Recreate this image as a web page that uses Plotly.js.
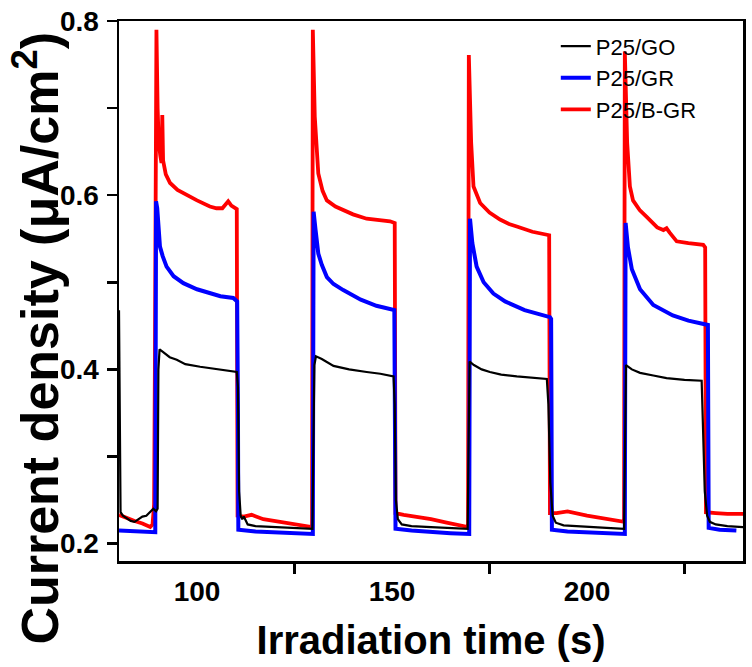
<!DOCTYPE html>
<html>
<head>
<meta charset="utf-8">
<script src="https://cdn.plot.ly/plotly-3.0.1.min.js"></script>
<style>html,body{margin:0;padding:0;background:#fff;}#chart{width:752px;height:667px;}</style>
</head>
<body>
<div id="chart"></div>
<script>
// Series names (legend order)
const seriesNames = ["P25/GO", "P25/GR", "P25/B-GR"];

// P25/GO : [time (s), current density (uA/cm2)]
const goData = [
  [80,0.468],[80.15,0.30],[80.4,0.236],[81,0.232],[82,0.229],[83,0.226],[84,0.225],[85,0.228],[86,0.231],[87,0.232],[88,0.236],[88.8,0.240],[89.5,0.237],[89.9,0.240],
  [90.1,0.40],[90.4,0.423],[91,0.421],[92,0.417],[93,0.414],[94.8,0.411],[97,0.406],[100.8,0.403],[104,0.401],[107,0.399],[110.2,0.397],
  [110.5,0.38],[110.8,0.26],[111.2,0.232],[111.6,0.228],[112,0.231],[113,0.222],[115,0.220],[120,0.219],[125,0.218],[129.6,0.217],
  [129.8,0.30],[130.1,0.405],[130.5,0.415],[132,0.412],[135,0.404],[139,0.400],[143.5,0.397],[147,0.395],[150.4,0.392],
  [150.7,0.36],[151,0.25],[151.5,0.228],[152.5,0.222],[155,0.220],[160,0.219],[165,0.218],[169.4,0.217],
  [169.6,0.30],[169.9,0.409],[171,0.405],[173,0.400],[175.1,0.397],[178,0.394],[182,0.392],[186,0.390],[189.7,0.389],
  [190.1,0.36],[190.6,0.27],[191.2,0.232],[192,0.224],[194,0.221],[200,0.219],[205,0.218],[209.5,0.217],
  [209.7,0.30],[210,0.405],[211.5,0.400],[213.6,0.396],[217,0.393],[220.4,0.390],[225,0.388],[229.4,0.387],
  [229.7,0.34],[230.2,0.26],[230.8,0.232],[231.5,0.225],[233,0.222],[236,0.220],[240,0.219]
];

// P25/GR
const grData = [
  [80,0.215],[84,0.214],[88,0.213],[89.3,0.213],[89.4,0.40],[89.5,0.593],[89.8,0.585],[90.2,0.555],[90.5,0.541],[91.2,0.530],[92.2,0.518],[94,0.507],[96.5,0.499],[100,0.492],[103.3,0.487],[106,0.484],[109.3,0.482],[110.3,0.478],
  [110.5,0.35],[110.6,0.216],[115,0.214],[120,0.213],[125,0.212],[129.7,0.211],
  [129.8,0.40],[129.9,0.581],[130.4,0.560],[131.1,0.533],[132,0.520],[133.3,0.506],[135,0.498],[137.5,0.491],[142,0.480],[146,0.473],[150.6,0.468],
  [150.8,0.35],[150.9,0.217],[155,0.215],[160,0.213],[165,0.212],[169.8,0.211],
  [169.9,0.40],[170,0.573],[170.6,0.545],[171.7,0.518],[173.5,0.500],[176,0.487],[179,0.478],[184,0.468],[190.5,0.460],[190.8,0.458],
  [190.9,0.35],[191,0.216],[195,0.214],[200,0.213],[205,0.212],[209.7,0.211],
  [209.8,0.40],[209.9,0.568],[210.5,0.540],[211.5,0.515],[213.6,0.492],[217,0.474],[222,0.462],[226,0.456],[231,0.451],
  [231.1,0.35],[231.2,0.218],[234,0.216],[238.3,0.215]
];

// P25/B-GR
const bgrData = [
  [80,0.233],[82,0.229],[84,0.226],[86,0.223],[88,0.219],[88.6,0.222],[89.0,0.245],[89.2,0.40],[89.4,0.70],[89.6,0.790],[89.9,0.700],[90.2,0.660],[90.6,0.645],[90.9,0.637],[91.1,0.692],[91.3,0.640],[92,0.624],[93.1,0.614],[95,0.606],[97.4,0.600],[100,0.594],[103.3,0.587],[105,0.585],[106.5,0.585],[107.3,0.590],[108,0.593],[108.8,0.588],[110.2,0.584],
  [110.3,0.40],[110.4,0.232],[112,0.231],[114,0.233],[117,0.228],[120,0.226],[125,0.222],[129,0.219],[129.5,0.219],
  [129.6,0.50],[129.7,0.790],[130.2,0.690],[131.1,0.625],[132.2,0.605],[133.3,0.594],[135.5,0.587],[137.5,0.583],[140,0.578],[143.5,0.573],[147,0.571],[149.5,0.570],[150.7,0.568],
  [150.8,0.40],[150.9,0.235],[153,0.233],[156,0.231],[160,0.228],[164,0.224],[168.7,0.219],[169.5,0.219],
  [169.6,0.50],[169.7,0.761],[170.3,0.660],[170.9,0.610],[172.6,0.591],[175,0.580],[177.7,0.572],[180,0.567],[182,0.564],[186,0.558],[190.3,0.554],
  [190.4,0.40],[190.5,0.235],[192.2,0.235],[195,0.237],[200,0.232],[205,0.228],[209,0.225],[209.5,0.225],
  [209.6,0.50],[209.7,0.765],[210.3,0.660],[211,0.610],[211.8,0.594],[213.5,0.583],[215.3,0.575],[218,0.563],[219.6,0.560],[220.4,0.562],[221.2,0.557],[223,0.547],[226,0.545],[229.8,0.543],[230.3,0.540],
  [230.4,0.40],[230.5,0.236],[233,0.235],[236,0.234],[240,0.234]
];

// Axis ticks
const xRange = [80, 240];
const yRange = [0.18, 0.8];
const xMajor = {tick0: 100, dtick: 50};
const xMinorStep = 25;
const yMajor = {tick0: 0.2, dtick: 0.2};
const yMinorStep = 0.1;

const xTitle = "<b>Irradiation time (s)</b>";
const yTitle = "<b>Current density (μA/cm<sup>2</sup>)</b>";

const colors = {"P25/GO":"#000000","P25/GR":"#0000ff","P25/B-GR":"#ff0000"};
const widths = {"P25/GO":2.2,"P25/GR":4,"P25/B-GR":3.8};

function mk(name, data){
  return {
    type:"scatter", mode:"lines", name:name,
    x:data.map(p=>p[0]), y:data.map(p=>p[1]),
    line:{color:colors[name], width:widths[name]}
  };
}
// draw red first, then blue, then black on top
const traces = [mk("P25/B-GR", bgrData), mk("P25/GR", grData), mk("P25/GO", goData)];

const FONT = "Arial, 'Liberation Sans', sans-serif";
const layout = {
  width:752, height:667,
  margin:{l:119, r:9, t:21, b:106},
  paper_bgcolor:"#fff", plot_bgcolor:"#fff",
  font:{family:FONT, color:"#000"},
  showlegend:true,
  legend:{traceorder:"reversed", x:0.70, xanchor:"left", y:0.992, yanchor:"top",
    bgcolor:"rgba(0,0,0,0)", borderwidth:0, font:{family:FONT, size:22, color:"#000"}, tracegroupgap:0},
  xaxis:{range:xRange, tickmode:"linear", tick0:xMajor.tick0, dtick:xMajor.dtick,
    ticks:"", showline:true, linecolor:"#000", linewidth:2.5, mirror:true,
    showgrid:false, zeroline:false,
    tickfont:{family:FONT, size:28, color:"#000", weight:"bold"},
    minor:{dtick:xMinorStep, tick0:xMajor.tick0, ticks:"outside", ticklen:10, tickwidth:2.5, tickcolor:"#000", showgrid:false},
    ticklabelstandoff:4,
    title:{text:xTitle, font:{family:FONT, size:40, color:"#000"}, standoff:20}},
  yaxis:{range:yRange, tickmode:"linear", tick0:yMajor.tick0, dtick:yMajor.dtick,
    ticks:"outside", ticklen:10, tickwidth:2.5, tickcolor:"#000",
    showline:true, linecolor:"#000", linewidth:2.5, mirror:true,
    showgrid:false, zeroline:false,
    tickfont:{family:FONT, size:28, color:"#000", weight:"bold"},
    minor:{dtick:yMinorStep, tick0:yMajor.tick0, ticks:"outside", ticklen:10, tickwidth:2.5, tickcolor:"#000", showgrid:false},
    ticklabelstandoff:2},
  annotations:[{
    text:yTitle, xref:"paper", yref:"paper", x:-0.132, y:0.413,
    xanchor:"center", yanchor:"middle", textangle:-90, showarrow:false,
    font:{family:FONT, size:52, color:"#000"}
  }]
};

Plotly.newPlot("chart", traces, layout, {displayModeBar:false, staticPlot:true});
</script>
</body>
</html>
